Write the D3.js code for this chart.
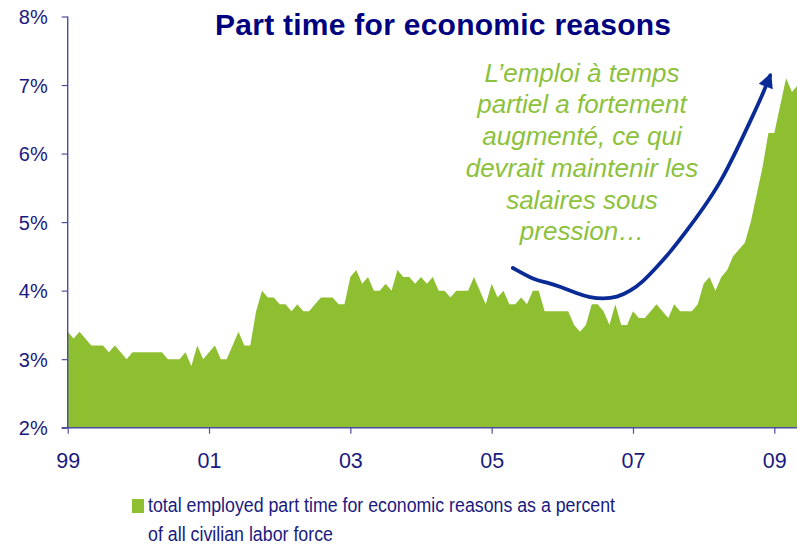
<!DOCTYPE html>
<html>
<head>
<meta charset="utf-8">
<script src="https://cdn.jsdelivr.net/npm/d3@7"></script>
<style>
  html, body { margin: 0; padding: 0; background: #ffffff; }
  svg { display: block; }
  text { font-family: "Liberation Sans", Arial, sans-serif; }
</style>
</head>
<body>
<svg id="chart" width="797" height="545"></svg>
<script>
// Monthly share of the civilian labour force working part time for economic reasons (%), Jan 1999 onwards
const year1999 = [3.4, 3.3, 3.4, 3.3, 3.2, 3.2, 3.2, 3.1, 3.2, 3.1, 3.0, 3.1];
const year2000 = [3.1, 3.1, 3.1, 3.1, 3.1, 3.0, 3.0, 3.0, 3.1, 2.9, 3.2, 3.0];
const year2001 = [3.1, 3.2, 3.0, 3.0, 3.2, 3.4, 3.2, 3.2, 3.7, 4.0, 3.9, 3.9];
const year2002 = [3.8, 3.8, 3.7, 3.8, 3.7, 3.7, 3.8, 3.9, 3.9, 3.9, 3.8, 3.8];
const year2003 = [4.2, 4.3, 4.1, 4.2, 4.0, 4.0, 4.1, 4.0, 4.3, 4.2, 4.2, 4.1];
const year2004 = [4.2, 4.1, 4.2, 4.0, 4.0, 3.9, 4.0, 4.0, 4.0, 4.2, 4.0, 3.8];
const year2005 = [4.1, 3.9, 4.0, 3.8, 3.8, 3.9, 3.8, 4.0, 4.0, 3.7, 3.7, 3.7];
const year2006 = [3.7, 3.7, 3.5, 3.4, 3.5, 3.8, 3.8, 3.7, 3.5, 3.8, 3.5, 3.5];
const year2007 = [3.7, 3.6, 3.6, 3.7, 3.8, 3.7, 3.6, 3.8, 3.7, 3.7, 3.7, 3.8];
const year2008 = [4.1, 4.2, 4.0, 4.2, 4.3, 4.5, 4.6, 4.7, 5.0, 5.4, 5.8, 6.3];
const year2009 = [6.3, 6.7, 7.1, 6.9, 7.0];

const series = [].concat(year1999, year2000, year2001, year2002, year2003,
  year2004, year2005, year2006, year2007, year2008, year2009);

// Axis ticks: months since Jan 1999 and their labels
const xTickMonths = [0, 24, 48, 72, 96, 120];
const xTickLabels = ["99", "01", "03", "05", "07", "09"];
const yTicks = [2, 3, 4, 5, 6, 7, 8];

const titleText = "Part time for economic reasons";
const noteLines = ["L\u2019emploi à temps", "partiel a fortement", "augmenté, ce qui",
                   "devrait maintenir les", "salaires sous", "pression\u2026"];
const legendLines = ["total employed part time for economic reasons as a percent",
                     "of all civilian labor force"];

// Trend arrow drawn over the chart, in (month index, percent) units
const arrowPoints = [
  [75.6, 4.33], [79.1, 4.16], [81.4, 4.12], [83.6, 4.06], [86.5, 3.96],
  [88.7, 3.90], [90.9, 3.88], [93.3, 3.90], [95.5, 3.99], [97.7, 4.13],
  [100.1, 4.35], [102.3, 4.56], [105.1, 4.87], [108.0, 5.21], [110.8, 5.57],
  [113.6, 6.05], [116.4, 6.56], [118.1, 6.88], [119.3, 7.14]
];

const GREEN = "#8dbf30";
const NOTE_GREEN = "#8cc13c";
const NAVY = "#1a1a7e";
const AXIS = "#4d4d9e";
const ARROW = "#0a2a96";

const svg = d3.select("#chart");

const x = d3.scaleLinear().domain([0, 120]).range([67.7, 774.3]);
const y = d3.scaleLinear().domain([2, 8]).range([427.7, 16.5]);

// Area
const area = d3.area()
  .x((d, i) => x(i))
  .y0(y(2))
  .y1(d => y(d));

svg.append("path")
  .datum(series)
  .attr("d", area)
  .attr("fill", GREEN);

// Y axis
const yAxis = d3.axisLeft(y)
  .tickValues(yTicks)
  .tickFormat(d => d + "%")
  .tickSize(6)
  .tickSizeOuter(0)
  .tickPadding(14);

const gy = svg.append("g")
  .attr("transform", `translate(${x(0)},0)`)
  .call(yAxis);
gy.select(".domain").remove();
gy.selectAll(".tick line").attr("stroke", AXIS).attr("stroke-width", 1.2);
gy.selectAll(".tick text")
  .attr("fill", NAVY)
  .attr("font-size", 20)
  .attr("dy", "0.36em");

// X axis
const xAxis = d3.axisBottom(x)
  .tickValues(xTickMonths)
  .tickFormat((d, i) => xTickLabels[i])
  .tickSize(6)
  .tickSizeOuter(0)
  .tickPadding(19);

const gx = svg.append("g")
  .attr("transform", `translate(0,${y(2)})`)
  .call(xAxis);
gx.select(".domain").remove();
gx.selectAll(".tick line").attr("stroke", AXIS).attr("stroke-width", 1.2);
gx.selectAll(".tick text")
  .attr("fill", NAVY)
  .attr("font-size", 21.5);

// Axis lines
svg.append("line")
  .attr("x1", x(0)).attr("x2", x(0))
  .attr("y1", y(8)).attr("y2", y(2))
  .attr("stroke", AXIS).attr("stroke-width", 1.4);
svg.append("line")
  .attr("x1", x(0) - 6).attr("x2", 797)
  .attr("y1", y(2)).attr("y2", y(2))
  .attr("stroke", AXIS).attr("stroke-width", 1.4);

// Title
svg.append("text")
  .attr("x", 443).attr("y", 35)
  .attr("text-anchor", "middle")
  .attr("font-size", 30)
  .attr("font-weight", "bold")
  .attr("fill", "#00007f")
  .attr("textLength", 456)
  .attr("lengthAdjust", "spacing")
  .text(titleText);

// Annotation text
svg.append("g")
  .selectAll("text")
  .data(noteLines)
  .join("text")
  .attr("x", 582)
  .attr("y", (d, i) => 81.7 + i * 31.7)
  .attr("text-anchor", "middle")
  .attr("font-size", 26)
  .attr("font-style", "italic")
  .attr("fill", NOTE_GREEN)
  .text(d => d);

// Arrow
const defs = svg.append("defs");
defs.append("marker")
  .attr("id", "arrowhead")
  .attr("viewBox", "0 0 10 10")
  .attr("refX", 8)
  .attr("refY", 5)
  .attr("markerWidth", 18)
  .attr("markerHeight", 15)
  .attr("markerUnits", "userSpaceOnUse")
  .attr("orient", "auto")
  .append("path")
  .attr("d", "M0,0 L10,5 L0,10 Z")
  .attr("fill", ARROW);

const arrowLine = d3.line()
  .x(d => x(d[0]))
  .y(d => y(d[1]))
  .curve(d3.curveBasis);

svg.append("path")
  .datum(arrowPoints)
  .attr("d", arrowLine)
  .attr("fill", "none")
  .attr("stroke", ARROW)
  .attr("stroke-width", 3.8)
  .attr("stroke-linecap", "round")
  .attr("marker-end", "url(#arrowhead)");

// Legend
svg.append("rect")
  .attr("x", 132).attr("y", 499)
  .attr("width", 12).attr("height", 14)
  .attr("fill", GREEN);

const legendWidths = [467, 185];
svg.append("g")
  .selectAll("text")
  .data(legendLines)
  .join("text")
  .attr("x", 148)
  .attr("y", (d, i) => 512 + i * 28.5)
  .attr("font-size", 19.5)
  .attr("fill", NAVY)
  .attr("textLength", (d, i) => legendWidths[i])
  .attr("lengthAdjust", "spacingAndGlyphs")
  .text(d => d);
</script>
</body>
</html>
